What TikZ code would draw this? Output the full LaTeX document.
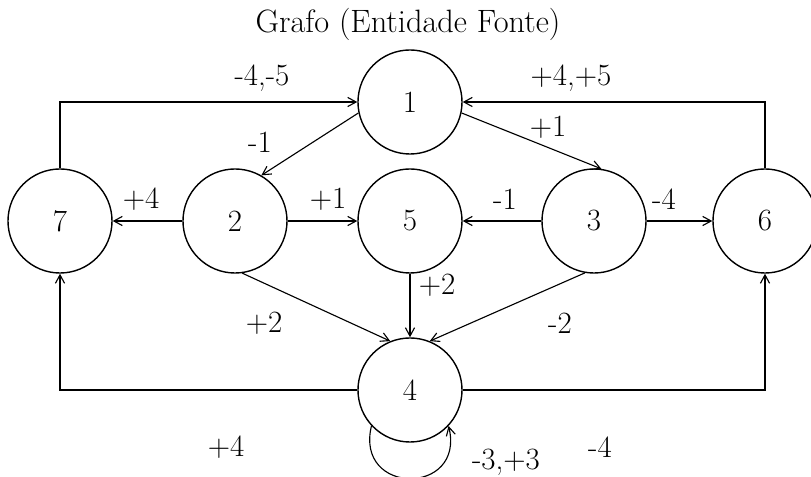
\documentclass[tikz,border=0pt]{standalone}
\usepackage{tikz}
\usetikzlibrary{positioning,arrows.meta}

\begin{document}
\begin{tikzpicture}[
  x=0.025cm, y=-0.025cm,
  font=\fontsize{22}{26}\selectfont,
  vertex/.style={
    draw,
    circle,
    line width=1pt,
    minimum size=2.6cm,
    inner sep=0pt,
    font=\fontsize{22}{26}\selectfont
  },
  flow/.style={-{Straight Barb[length=6pt,width=6.5pt]}, line width=0.8pt},
  weight/.style={inner sep=1pt}
]
\useasboundingbox (0,0) rectangle (811,477);
\node[font=\fontsize{23}{27}\selectfont] (title) at (408,24) {Grafo (Entidade Fonte)};
\node[vertex] (n1) at (410,102) {1};
\node[vertex] (n7) at (60,221) {7};
\node[vertex] (n2) at (235,221) {2};
\node[vertex] (n5) at (410,221) {5};
\node[vertex] (n3) at (594,221) {3};
\node[vertex] (n6) at (765,221) {6};
\node[vertex] (n4) at (410,390) {4};
% arestas
\draw[flow] (n7.north) |- (n1.west);
\draw[flow] (n6.north) |- (n1.east);
\draw[flow] (n1.192) -- (n2.60);
\draw[flow] (n1.-12) -- (n3.82);
\draw[flow] (n2.west) -- (n7.east);
\draw[flow] (n2.east) -- (n5.west);
\draw[flow] (n3.west) -- (n5.east);
\draw[flow] (n3.east) -- (n6.west);
\draw[flow] (n5.south) -- (n4.north);
\draw[flow] (n2.-82) -- (n4.112);
\draw[flow] (n3.-100) -- (n4.68);
\draw[flow] (n4.west) -| (n7.south);
\draw[flow] (n4.east) -| (n6.south);
\draw[flow] (n4.-137) .. controls +(-17,70) and +(17,70) .. (n4.-43);
% pesos
\node[weight] (w71) at (262,78) {-4,-5};
\node[weight] (w61) at (571,78) {+4,+5};
\node[weight] (w12) at (260,142) {-1};
\node[weight] (w13) at (548,127) {+1};
\node[weight] (w27) at (141,199) {+4};
\node[weight] (w25) at (328,199) {+1};
\node[weight] (w35) at (505,199) {-1};
\node[weight] (w36) at (664,199) {-4};
\node[weight] (w54) at (437,285) {+2};
\node[weight] (w24) at (264,323) {+2};
\node[weight] (w34) at (560,323) {-2};
\node[weight] (w47) at (226,447) {+4};
\node[weight] (w46) at (600,447) {-4};
\node[weight] (w44) at (506,462) {-3,+3};
\end{tikzpicture}
\end{document}
